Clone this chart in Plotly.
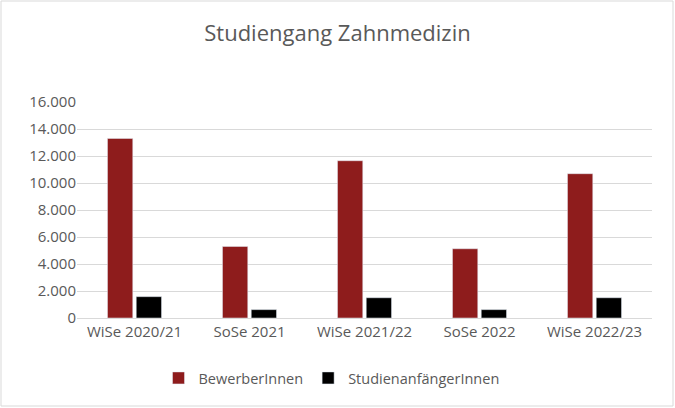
import plotly.graph_objects as go

categories = ["WiSe 2020/21", "SoSe 2021", "WiSe 2021/22", "SoSe 2022", "WiSe 2022/23"]
bewerber = [13300, 5300, 11650, 5130, 10690]
anfaenger = [1580, 620, 1500, 620, 1500]
y_ticks = [0, 2000, 4000, 6000, 8000, 10000, 12000, 14000, 16000]

W, H = 675, 408
ml, mr, mt, mb = 77, 23, 102, 90

fig = go.Figure()
fig.add_trace(go.Bar(name="BewerberInnen", x=categories, y=bewerber, marker_color="#8E1C1C"))
fig.add_trace(go.Bar(name="StudienanfängerInnen", x=categories, y=anfaenger, marker_color="#000000"))

pw = W - ml - mr
ph = H - mt - mb
fig.update_layout(
    width=W, height=H,
    margin=dict(l=ml, r=mr, t=mt, b=mb),
    paper_bgcolor="white", plot_bgcolor="white",
    separators=",.",
    barmode="group", bargap=0.5, bargroupgap=0.12,
    font=dict(family="Open Sans", color="#595959", size=15),
    title=dict(text="Studiengang Zahnmedizin", x=0.5, xanchor="center", y=1 - 33 / H, yanchor="middle",
               font=dict(size=22, color="#595959")),
    xaxis=dict(showgrid=False, showline=True, linecolor="#D9D9D9", ticks="", tickfont=dict(size=15)),
    yaxis=dict(range=[0, 16000], tickvals=y_ticks, tickformat=",d", showgrid=True, gridcolor="#D9D9D9",
               zeroline=False, showline=False, ticks="", ticklen=0, tickfont=dict(size=15)),
    legend=dict(orientation="h", x=0.5 - 33 / pw, xanchor="center", y=-(378 - (H - mb)) / ph, yanchor="middle",
                font=dict(size=14.5), itemwidth=30),
    showlegend=True,
)
fig.add_shape(type="rect", xref="paper", yref="paper",
              x0=(1 - ml) / pw, x1=(W - 2 - ml) / pw, y0=-(H - 2 - (H - mb)) / ph, y1=1 + (mt - 1) / ph,
              line=dict(color="#D9D9D9", width=1), fillcolor="rgba(0,0,0,0)", layer="below")
fig.write_html("out.html", config={"displayModeBar": False},
               post_script="document.body.style.margin='0';document.body.style.overflow='hidden';")
